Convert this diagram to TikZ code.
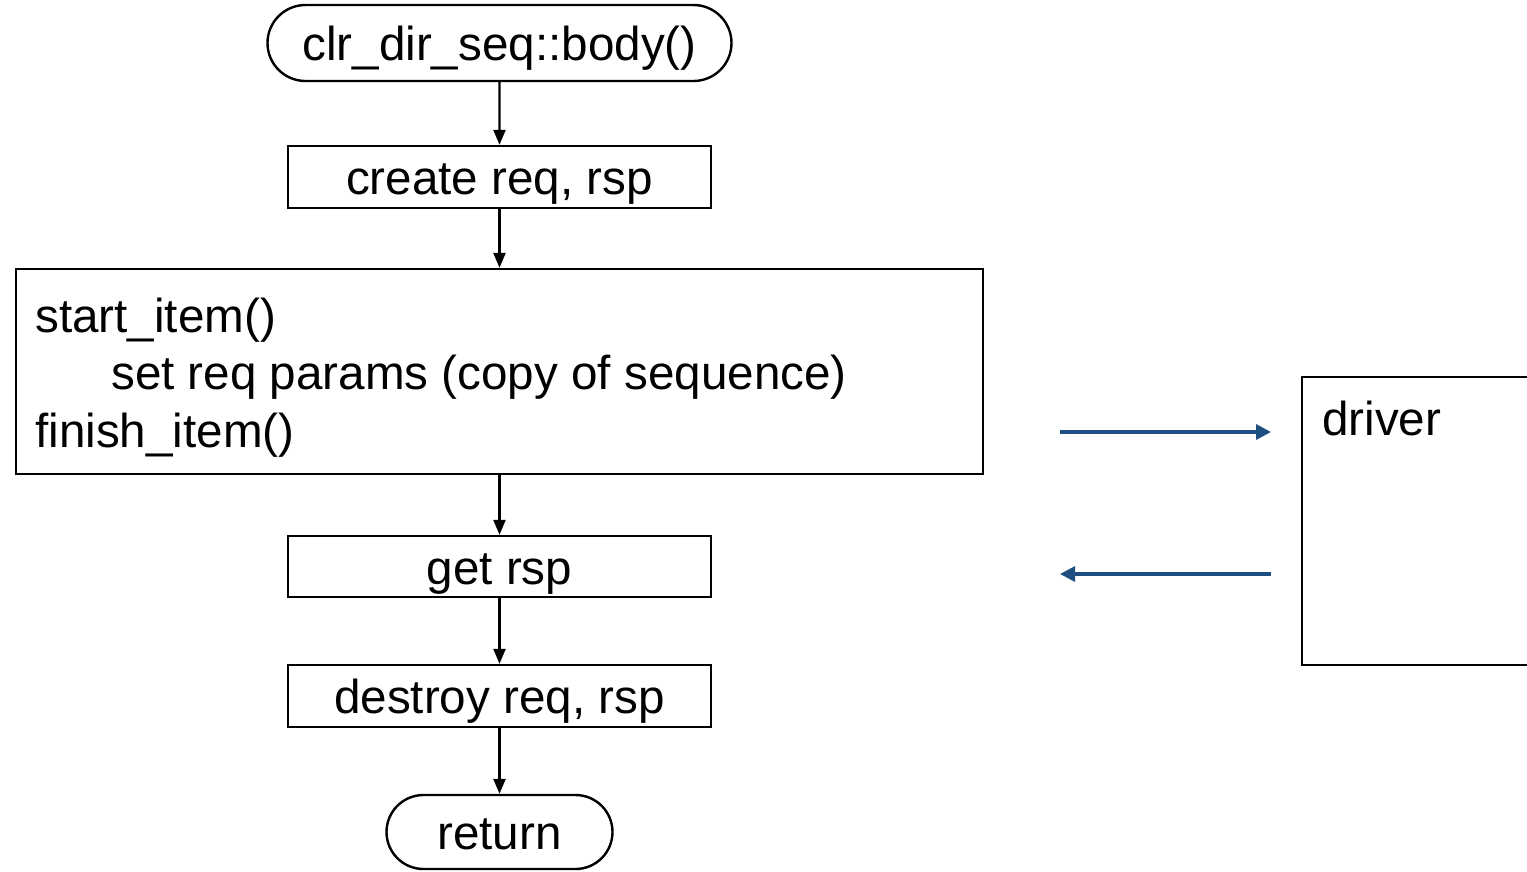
\documentclass[tikz,border=0pt]{standalone}
\usepackage{fontspec}
\setmainfont{Liberation Sans}
\usetikzlibrary{arrows.meta,shapes.misc}
\definecolor{linkblue}{HTML}{1F4E80}

\begin{document}
\begin{tikzpicture}[x=1pt,y=-1pt,
  every node/.style={font=\fontsize{47.6}{57.5}\selectfont, text height=40pt, text depth=5pt},
  box/.style={draw, line width=2.4pt, rectangle, inner sep=0pt},
  term/.style={draw, line width=2.4pt, rounded rectangle, inner sep=0pt},
  flow/.style={line width=2.4pt, -{Triangle[length=15pt,width=12pt]}},
  link/.style={line width=3.2pt, draw=linkblue, -{Triangle[length=15pt,width=15pt]}}]
\useasboundingbox (0,0) rectangle (1527,871);

% sequence body flow
\node[term, minimum width=464pt, minimum height=76pt] (body) at (499.5,43) {clr\_dir\_seq::body()};
\node[box, minimum width=423pt, minimum height=62pt] (create) at (499.5,177) {create req, rsp};
\node[box, minimum width=967pt, minimum height=205pt] (item) at (499.5,371.5) {};
\node[anchor=west, align=left, inner sep=0pt, text height=, text depth=] (itemtext) at (35,377.5)
  {start\_item()\\\hspace*{76pt}set req params (copy of sequence)\\finish\_item()};
\node[box, minimum width=423pt, minimum height=61pt] (getrsp) at (499.5,566.5) {get rsp};
\node[box, minimum width=423pt, minimum height=62pt] (destroy) at (499.5,696) {destroy req, rsp};
\node[term, minimum width=226pt, minimum height=74pt] (ret) at (499.5,832) {return};

\draw[flow] (body) -- (create);
\draw[flow] (create) -- (item);
\draw[flow] (item) -- (getrsp);
\draw[flow] (getrsp) -- (destroy);
\draw[flow] (destroy) -- (ret);

% driver side
\node[box, minimum width=226pt, minimum height=288pt] (driver) at (1415,521) {};
\node[anchor=west, inner sep=0pt] (drvlabel) at (1322,418) {driver};

\coordinate (reqfrom) at (1060,432);
\coordinate (reqto) at (1271,432);
\coordinate (rspfrom) at (1271,574);
\coordinate (rspto) at (1060,574);
\draw[link] (reqfrom) -- (reqto);
\draw[link] (rspfrom) -- (rspto);
\end{tikzpicture}
\end{document}
